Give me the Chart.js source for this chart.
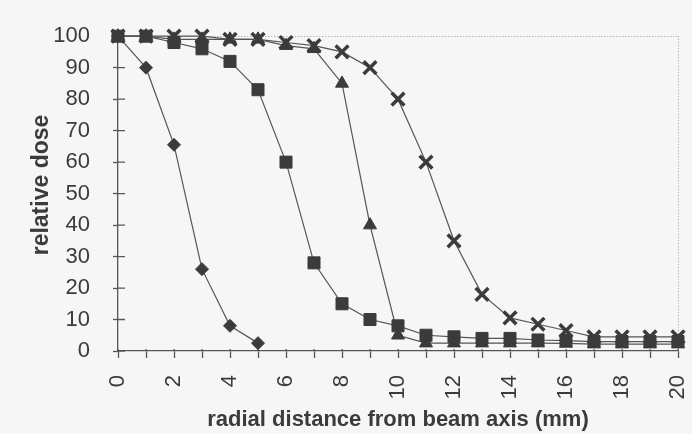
<!DOCTYPE html>
<html>
<head>
<meta charset="utf-8">
<title>relative dose</title>
<script src="https://cdn.jsdelivr.net/npm/chart.js@4.4.0/dist/chart.umd.min.js"></script>
<style>
    body { margin: 0; background: #f6f6f6; }
    canvas { display: block; }
</style>
</head>
<body>
<canvas id="doseChart" width="692" height="434"></canvas>
<script>
// radial distance (mm) and relative dose
const distances = [0, 1, 2, 3, 4, 5, 6, 7, 8, 9, 10, 11, 12, 13, 14, 15, 16, 17, 18, 19, 20];
const squareDose = [100, 100, 98, 96, 92, 83, 60, 28, 15, 10, 8, 5, 4.5, 4, 4, 3.5, 3.3, 3, 3, 3, 3];
const crossDose = [100, 100, 100, 100, 99, 99, 98, 97, 95, 90, 80, 60, 35, 18, 10.5, 8.5, 6.5, 4.5, 4.5, 4.5, 4.5];
const triangleDose = [100, 100, 99, 99, 99, 99, 97, 96, 85, 40, 5, 2.5, 2.5, 2.5, 2.5, 2.5, 2.4, 2.2, 2.2, 2.2, 2.2];
const diamondDose = [100, 90, 65.5, 26, 8, 2.5];
const yTickStep = 10;
const xTickStep = 1;
const xLabelEvery = 2;

const ink = '#3b3b3b';
const lineInk = '#555';
const font = 'Liberation Sans, Arial, sans-serif';

function toPoints(values) {
    return values.map((v, i) => ({ x: distances[i], y: v }));
}

function series(label, values, style, radius, extra) {
    return Object.assign({
        label: label,
        data: toPoints(values),
        borderColor: lineInk,
        borderWidth: 1.2,
        backgroundColor: ink,
        pointStyle: style,
        pointRadius: radius,
        pointHoverRadius: radius,
        pointBackgroundColor: ink,
        pointBorderColor: ink,
        pointBorderWidth: 1,
        tension: 0,
        clip: false
    }, extra || {});
}

// tick marks cross the axes a little, as in the scan
const innerTicks = {
    id: 'innerTicks',
    beforeDatasetsDraw(chart) {
        const { ctx, chartArea, scales: { x, y } } = chart;
        ctx.save();
        ctx.strokeStyle = lineInk;
        ctx.lineWidth = 1.3;
        ctx.beginPath();
        y.ticks.forEach(t => {
            const py = y.getPixelForValue(t.value);
            ctx.moveTo(chartArea.left, py);
            ctx.lineTo(chartArea.left + 7, py);
        });
        x.ticks.forEach(t => {
            const px = x.getPixelForValue(t.value);
            ctx.moveTo(px, chartArea.bottom);
            ctx.lineTo(px, chartArea.bottom - 2);
        });
        ctx.stroke();
        ctx.restore();
    }
};

// y title sits a bit above the middle of the axis
const yTitle = {
    id: 'yTitle',
    afterDraw(chart) {
        const ctx = chart.ctx;
        ctx.save();
        ctx.translate(42, 185);
        ctx.rotate(-Math.PI / 2);
        ctx.font = 'bold 23px ' + font;
        ctx.fillStyle = ink;
        ctx.textAlign = 'center';
        ctx.textBaseline = 'middle';
        ctx.fillText('relative dose', 0, 0);
        ctx.restore();
    }
};

const ctx = document.getElementById('doseChart').getContext('2d');
const doseChart = new Chart(ctx, {
    type: 'line',
    data: {
        datasets: [
            series('square', squareDose, 'rect', 8.5),
            series('cross', crossDose, 'crossRot', 9, { pointBorderWidth: 3.5 }),
            series('triangle', triangleDose, 'triangle', 7.5),
            series('diamond', diamondDose, 'rectRot', 6.5)
        ]
    },
    options: {
        responsive: false,
        animation: false,
        layout: { padding: { top: 35, right: 14, left: 0, bottom: 0 } },
        plugins: {
            legend: { display: false },
            tooltip: { enabled: false }
        },
        scales: {
            x: {
                type: 'linear',
                min: 0,
                max: 20,
                afterFit: scale => {
                    scale.height = 83;
                    scale.paddingLeft = 0;
                    scale.paddingRight = 0;
                },
                ticks: {
                    stepSize: xTickStep,
                    autoSkip: false,
                    minRotation: 90,
                    maxRotation: 90,
                    padding: 17,
                    color: ink,
                    font: { family: font, size: 22 },
                    callback: v => (v % xLabelEvery === 0 ? v : '')
                },
                grid: {
                    color: c => (c.tick && c.tick.value === 20 ? '#9a9a9a' : 'rgba(0,0,0,0)'),
                    lineWidth: 1,
                    tickColor: lineInk,
                    tickWidth: 1.3,
                    tickLength: 7
                },
                border: { color: lineInk, width: 1.3, dash: [1, 2] },
                title: {
                    display: true,
                    text: 'radial distance from beam axis (mm)',
                    color: ink,
                    font: { family: font, size: 22, weight: 'bold' },
                    padding: { top: 0, bottom: 1 }
                }
            },
            y: {
                min: 0,
                max: 100,
                afterFit: scale => { scale.width = 118; },
                ticks: {
                    stepSize: yTickStep,
                    padding: 23,
                    color: ink,
                    font: { family: font, size: 22 }
                },
                grid: {
                    color: c => (c.tick && c.tick.value === 100 ? '#9a9a9a' : 'rgba(0,0,0,0)'),
                    lineWidth: 1,
                    tickColor: lineInk,
                    tickWidth: 1.3,
                    tickLength: 5
                },
                border: { color: lineInk, width: 1.3, dash: [1, 2] }
            }
        }
    },
    plugins: [innerTicks, yTitle]
});
</script>
</body>
</html>
